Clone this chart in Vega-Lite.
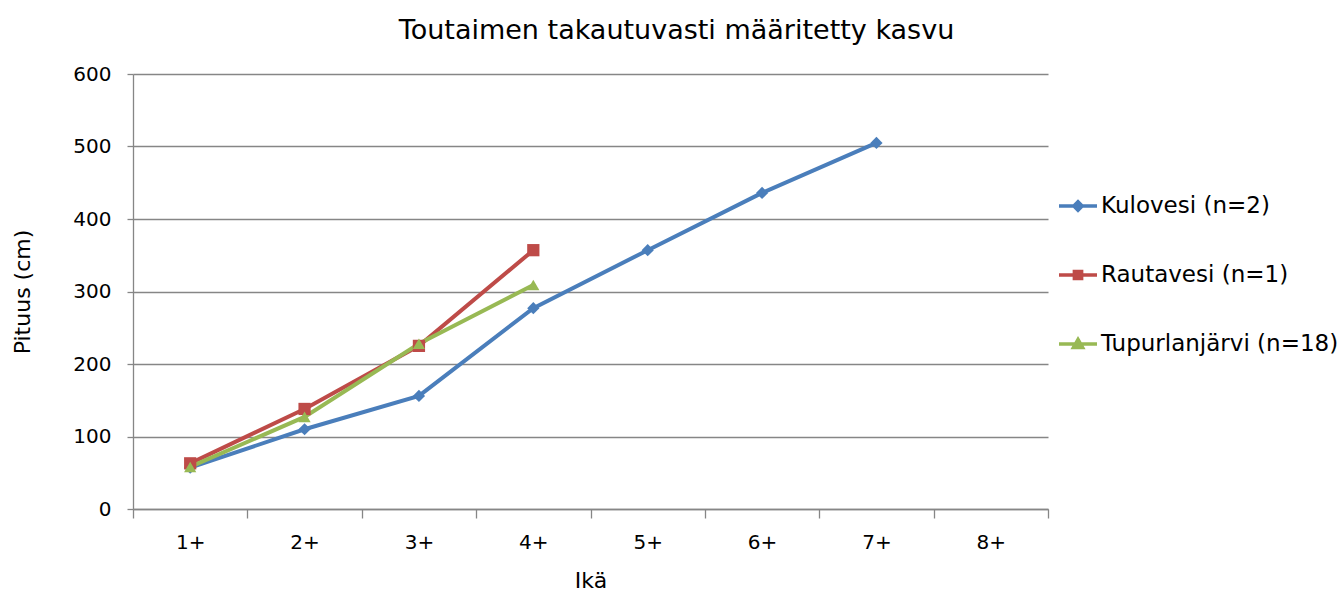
{
  "$schema": "https://vega.github.io/schema/vega-lite/v6.json",
  "autosize": "none",
  "width": 915,
  "height": 435,
  "padding": {"left": 133, "top": 74, "right": 294, "bottom": 84},
  "background": "white",
  "config": {
    "font": "DejaVu Sans",
    "view": {"stroke": null}
  },
  "title": {
    "text": "Toutaimen takautuvasti määritetty kasvu",
    "fontSize": 27,
    "fontWeight": "normal",
    "color": "#000000",
    "dx": 86,
    "offset": 19
  },
  "data": {
    "values": [
      {"ika": "1+", "sarja": "Kulovesi (n=2)", "pituus": 57},
      {"ika": "2+", "sarja": "Kulovesi (n=2)", "pituus": 110},
      {"ika": "3+", "sarja": "Kulovesi (n=2)", "pituus": 156},
      {"ika": "4+", "sarja": "Kulovesi (n=2)", "pituus": 277},
      {"ika": "5+", "sarja": "Kulovesi (n=2)", "pituus": 357},
      {"ika": "6+", "sarja": "Kulovesi (n=2)", "pituus": 436},
      {"ika": "7+", "sarja": "Kulovesi (n=2)", "pituus": 505},
      {"ika": "1+", "sarja": "Rautavesi (n=1)", "pituus": 63},
      {"ika": "2+", "sarja": "Rautavesi (n=1)", "pituus": 138},
      {"ika": "3+", "sarja": "Rautavesi (n=1)", "pituus": 225},
      {"ika": "4+", "sarja": "Rautavesi (n=1)", "pituus": 357},
      {"ika": "1+", "sarja": "Tupurlanjärvi (n=18)", "pituus": 58},
      {"ika": "2+", "sarja": "Tupurlanjärvi (n=18)", "pituus": 127},
      {"ika": "3+", "sarja": "Tupurlanjärvi (n=18)", "pituus": 228},
      {"ika": "4+", "sarja": "Tupurlanjärvi (n=18)", "pituus": 309}
    ]
  },
  "encoding": {
    "x": {
      "field": "ika",
      "type": "ordinal",
      "scale": {"type": "band", "domain": ["1+", "2+", "3+", "4+", "5+", "6+", "7+", "8+"], "paddingInner": 0, "paddingOuter": 0},
      "axis": {
        "title": "Ikä",
        "titleFontSize": 22,
        "titleFontWeight": "normal",
        "titleColor": "#000000",
        "titleX": 457.5,
        "titleY": 71,
        "titleBaseline": "middle",
        "labelFontSize": 20,
        "labelColor": "#000000",
        "labelAngle": 0,
        "labelPadding": 14,
        "tickBand": "extent",
        "tickSize": 9,
        "tickColor": "#868686",
        "tickWidth": 1.3,
        "domainColor": "#868686",
        "domainWidth": 1.3,
        "grid": false
      }
    },
    "y": {
      "field": "pituus",
      "type": "quantitative",
      "scale": {"domain": [0, 600], "nice": false},
      "axis": {
        "title": "Pituus (cm)",
        "titleFontSize": 22,
        "titleFontWeight": "normal",
        "titleColor": "#000000",
        "titleX": -111,
        "titleY": 217.5,
        "titleAngle": -90,
        "titleBaseline": "middle",
        "titleAlign": "center",
        "values": [0, 100, 200, 300, 400, 500, 600],
        "labelFontSize": 20,
        "labelColor": "#000000",
        "labelPadding": 16,
        "tickSize": 6,
        "tickColor": "#868686",
        "tickWidth": 1.3,
        "domainColor": "#868686",
        "domainWidth": 1.3,
        "gridColor": "#868686",
        "gridWidth": 1.3
      }
    }
  },
  "layer": [
    {
      "mark": {"type": "line", "strokeWidth": 4},
      "encoding": {
        "color": {
          "field": "sarja",
          "type": "nominal",
          "scale": {
            "domain": ["Kulovesi (n=2)", "Rautavesi (n=1)", "Tupurlanjärvi (n=18)"],
            "range": ["#4A7EBB", "#BE4B48", "#98B954"]
          },
          "legend": null
        }
      }
    },
    {
      "mark": {"type": "point", "filled": true, "opacity": 1},
      "encoding": {
        "color": {
          "field": "sarja",
          "type": "nominal",
          "scale": {
            "domain": ["Kulovesi (n=2)", "Rautavesi (n=1)", "Tupurlanjärvi (n=18)"],
            "range": ["#4A7EBB", "#BE4B48", "#98B954"]
          },
          "legend": null
        },
        "shape": {
          "field": "sarja",
          "type": "nominal",
          "scale": {
            "domain": ["Kulovesi (n=2)", "Rautavesi (n=1)", "Tupurlanjärvi (n=18)"],
            "range": ["diamond", "square", "triangle-up"]
          },
          "legend": null
        },
        "size": {"value": 150}
      }
    },
    {
      "transform": [{"filter": "false"}],
      "mark": {"type": "point", "filled": false, "opacity": 1, "strokeWidth": 3.5},
      "encoding": {
        "color": {
          "field": "sarja",
          "type": "nominal",
          "scale": {
            "domain": ["Kulovesi (n=2)", "Rautavesi (n=1)", "Tupurlanjärvi (n=18)"],
            "range": ["#4A7EBB", "#BE4B48", "#98B954"]
          },
          "legend": {
            "title": null,
            "orient": "none",
            "legendX": 924,
            "legendY": 111,
            "labelFontSize": 23,
            "labelColor": "#000000",
            "symbolSize": 1444,
            "symbolOpacity": 1,
            "symbolStrokeWidth": 3.5,
            "rowPadding": 36,
            "labelOffset": 2,
            "labelLimit": 400
          }
        },
        "shape": {
          "field": "sarja",
          "type": "nominal",
          "scale": {
            "domain": ["Kulovesi (n=2)", "Rautavesi (n=1)", "Tupurlanjärvi (n=18)"],
            "range": [
              "M-1,0H1M0,-0.22L0.22,0L0,0.22L-0.22,0Z",
              "M-1,0H1M-0.19,-0.19H0.19V0.19H-0.19Z",
              "M-1,0H1M0,-0.24L0.24,0.18H-0.24Z"
            ]
          },
          "legend": {
            "title": null,
            "orient": "none",
            "legendX": 924,
            "legendY": 111,
            "labelFontSize": 23,
            "labelColor": "#000000",
            "symbolSize": 1444,
            "symbolOpacity": 1,
            "symbolStrokeWidth": 3.5,
            "rowPadding": 36,
            "labelOffset": 2,
            "labelLimit": 400
          }
        },
        "size": {"value": 1444}
      }
    }
  ],
  "resolve": {"scale": {"shape": "independent", "color": "independent"}}
}
